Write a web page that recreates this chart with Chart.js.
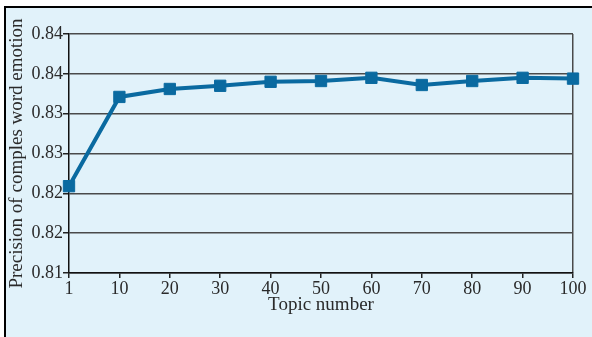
<!DOCTYPE html>
<html>
<head>
<meta charset="utf-8">
<script src="https://cdn.jsdelivr.net/npm/chart.js@4/dist/chart.umd.min.js"></script>
<style>
  html, body { margin: 0; padding: 0; background: #fff; }
  #frame {
    position: absolute; left: 4px; top: 6px;
    width: 586px; height: 329px;
    border-left: 2px solid #000; border-top: 2px solid #000;
    background: #e1f2fa;
  }
  #precisionChart { display: block; }
</style>
</head>
<body>
<div id="frame"><canvas id="precisionChart" width="586" height="329"></canvas></div>
<script>
// Topic numbers on the x axis
var topicNumbers = ['1', '10', '20', '30', '40', '50', '60', '70', '80', '90', '100'];
// Precision
var precisionValues = [0.8209, 0.8321, 0.8331, 0.8335, 0.8340, 0.8341, 0.8345, 0.8336, 0.8341, 0.8345, 0.8344];
// y tick labels as printed (rounded to two places in the original)
var yTickLabels = ['0.81', '0.82', '0.82', '0.83', '0.83', '0.84', '0.84'];

var serif = "'Liberation Serif', 'Times New Roman', serif";
var gridDark = '#4a4a4a';

var ctx = document.getElementById('precisionChart').getContext('2d');
var precisionChart = new Chart(ctx, {
    type: 'line',
    data: {
        labels: topicNumbers,
        datasets: [{
            data: precisionValues,
            borderColor: '#0a6aa0',
            backgroundColor: '#0a6aa0',
            borderWidth: 4,
            pointStyle: 'rect',
            pointRadius: 8,
            pointBorderWidth: 1,
            tension: 0,
            fill: false
        }]
    },
    options: {
        responsive: false,
        animation: false,
        layout: { padding: { left: 0, top: 26, right: 19, bottom: 21 } },
        scales: {
            x: {
                type: 'category',
                offset: false,
                grid: {
                    drawOnChartArea: true,
                    color: function (c) { return c.index === topicNumbers.length - 1 ? gridDark : 'rgba(0,0,0,0)'; },
                    lineWidth: 1.5,
                    tickColor: '#222',
                    tickLength: 5
                },
                border: { color: '#111', width: 1.5 },
                ticks: { color: '#2a2a2a', font: { family: serif, size: 18 }, padding: 0, maxRotation: 0 },
                title: {
                    display: true,
                    text: 'Topic number',
                    color: '#2a2a2a',
                    font: { family: serif, size: 19 },
                    padding: 0
                },
                afterFit: function (scale) { scale.height = 43; }
            },
            y: {
                min: 0.81,
                max: 0.84,
                grid: {
                    color: gridDark,
                    lineWidth: 1.5,
                    tickColor: '#222',
                    tickLength: 6
                },
                border: { color: '#111', width: 1.5 },
                ticks: {
                    stepSize: 0.005,
                    color: '#2a2a2a',
                    font: { family: serif, size: 18 },
                    padding: 0,
                    callback: function (v, i) { return yTickLabels[i]; }
                },
                title: {
                    display: true,
                    text: 'Precision of comples word emotion',
                    color: '#2a2a2a',
                    font: { family: serif, size: 19 },
                    padding: { top: 0, bottom: 0 }
                },
                afterFit: function (scale) { scale.width = 63; }
            }
        },
        plugins: {
            legend: { display: false },
            tooltip: { enabled: false }
        }
    }
});
</script>
</body>
</html>
